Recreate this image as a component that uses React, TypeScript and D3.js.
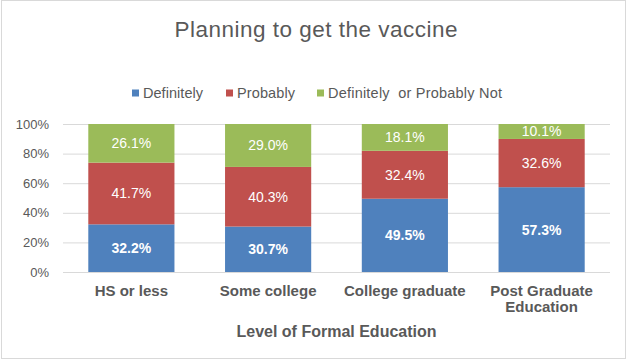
import { useMemo } from 'react';
import * as d3 from 'd3';

const categories = ['HS or less', 'Some college', 'College graduate', 'Post Graduate Education'];
const categoryLines = [['HS or less'], ['Some college'], ['College graduate'], ['Post Graduate', 'Education']];
const seriesNames = ['Definitely', 'Probably', 'Definitely  or Probably Not'];
const definitely = [32.2, 30.7, 49.5, 57.3];
const probably = [41.7, 40.3, 32.4, 32.6];
const notPlanning = [26.1, 29.0, 18.1, 10.1];
const yTicks = [0, 20, 40, 60, 80, 100];

const colors = ['#4F81BD', '#C0504D', '#9BBB59'];
const textGray = '#595959';
const font = 'Arial, "Liberation Sans", sans-serif';

const W = 629;
const H = 361;
const plot = { left: 63, right: 610, top: 124, bottom: 272 };

export default function App() {
  const rows = useMemo(
    () =>
      categories.map((c, i) => ({
        category: c,
        s0: definitely[i],
        s1: probably[i],
        s2: notPlanning[i],
      })),
    []
  );

  const stacked = useMemo(() => d3.stack<any>().keys(['s0', 's1', 's2'])(rows), [rows]);

  const x = d3
    .scaleBand<string>()
    .domain(categories)
    .range([plot.left, plot.right])
    .paddingInner(0.37)
    .paddingOuter(0.185);
  const y = d3.scaleLinear().domain([0, 100]).range([plot.bottom, plot.top]);

  // legend layout (swatch x, text x)
  const legendItems = [
    { sx: 132, tx: 143, len: 60 },
    { sx: 226, tx: 237, len: 58 },
    { sx: 317, tx: 328, len: 174 },
  ];

  return (
    <svg
      width={W}
      height={H}
      style={{ position: 'absolute', left: 0, top: 0, background: '#fff' }}
      fontFamily={font}
    >
      <rect x={0} y={0} width={W} height={H} fill="#fff" />
      <rect x={1.5} y={0.5} width={624} height={358} fill="none" stroke="#D9D9D9" />

      {/* Title */}
      <text x={316} y={37} textAnchor="middle" fontSize={22.5} fill={textGray} textLength={283} lengthAdjust="spacing">
        Planning  to get the vaccine
      </text>

      {/* Legend */}
      <g>
        {seriesNames.map((name, i) => (
          <g key={name}>
            <rect x={legendItems[i].sx} y={89.5} width={7} height={7} fill={colors[i]} />
            <text
              x={legendItems[i].tx}
              y={93}
              dominantBaseline="central"
              fontSize={14.5}
              fill={textGray}
              textLength={legendItems[i].len}
              lengthAdjust="spacing"
              style={{ whiteSpace: 'pre' }}
            >
              {name}
            </text>
          </g>
        ))}
      </g>

      {/* Gridlines + y ticks */}
      <g>
        {yTicks.map((t) => (
          <g key={t}>
            <line x1={plot.left} x2={plot.right} y1={y(t) + 0.5} y2={y(t) + 0.5} stroke="#D9D9D9" />
            <text x={49} y={y(t)} textAnchor="end" dominantBaseline="central" fontSize={13} fill={textGray}>
              {t}%
            </text>
          </g>
        ))}
      </g>

      {/* Bars */}
      <g>
        {stacked.map((layer, si) => (
          <g key={layer.key}>
            {layer.map((d, ci) => {
              const bx = x(categories[ci]) ?? 0;
              const y0 = y(d[0]);
              const y1 = y(d[1]);
              const v = d[1] - d[0];
              return (
                <g key={ci}>
                  <rect x={bx} y={y1} width={x.bandwidth()} height={y0 - y1} fill={colors[si]} />
                  <text
                    x={bx + x.bandwidth() / 2}
                    y={(y0 + y1) / 2}
                    textAnchor="middle"
                    dominantBaseline="central"
                    fontSize={14}
                    fontWeight={si === 0 ? 'bold' : 'normal'}
                    fill="#fff"
                  >
                    {v.toFixed(1)}%
                  </text>
                </g>
              );
            })}
          </g>
        ))}
      </g>

      {/* Category labels */}
      <g>
        {categories.map((c, i) => (
          <text
            key={c}
            x={(x(c) ?? 0) + x.bandwidth() / 2}
            y={296}
            textAnchor="middle"
            fontSize={15}
            fontWeight="bold"
            fill={textGray}
          >
            {categoryLines[i].map((line, li) => (
              <tspan key={li} x={(x(c) ?? 0) + x.bandwidth() / 2} dy={li === 0 ? 0 : 16}>
                {line}
              </tspan>
            ))}
          </text>
        ))}
      </g>

      {/* Axis title */}
      <text
        x={(plot.left + plot.right) / 2}
        y={337}
        textAnchor="middle"
        fontSize={16}
        fontWeight="bold"
        fill={textGray}
      >
        Level of Formal Education
      </text>
    </svg>
  );
}
